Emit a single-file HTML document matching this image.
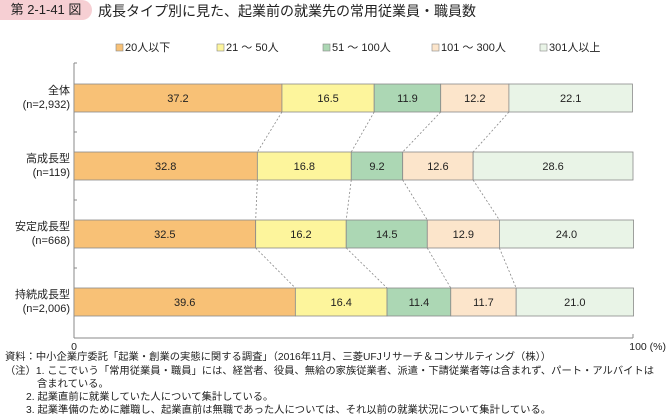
<!DOCTYPE html>
<html><head><meta charset="utf-8"><style>
body{margin:0;background:#fff;font-family:"Liberation Sans","Noto Sans CJK JP",sans-serif;}
#wrap{position:relative;width:667px;height:418px;overflow:hidden;}
.badge{position:absolute;left:0;top:0;width:92px;height:20px;background:#f6cfd3;border-radius:0 10px 10px 0;font-size:13px;line-height:20px;text-align:center;color:#222;}
.title{position:absolute;left:98px;top:1px;font-size:14px;color:#222;}
.note{position:absolute;left:5px;font-size:10.3px;line-height:12px;color:#222;white-space:nowrap;}
</style></head><body><div id="wrap">
<div class="badge">第 2-1-41 図</div>
<div class="title">成長タイプ別に見た、起業前の就業先の常用従業員・職員数</div>
<svg id="chart" width="667" height="356" style="position:absolute;left:0;top:0"></svg>
<div class="note" style="top:352px">資料：中小企業庁委託「起業・創業の実態に関する調査」（2016年11月、三菱UFJリサーチ＆コンサルティング（株））</div>
<div class="note" style="top:366px">（注）1. ここでいう「常用従業員・職員」には、経営者、役員、無給の家族従業者、派遣・下請従業者等は含まれず、パート・アルバイトは</div>
<div class="note" style="top:379px;left:37px">含まれている。</div>
<div class="note" style="top:392px;left:26px">2. 起業直前に就業していた人について集計している。</div>
<div class="note" style="top:405px;left:26px">3. 起業準備のために離職し、起業直前は無職であった人については、それ以前の就業状況について集計している。</div>
</div>
<script>
const categories=["全体","高成長型","安定成長型","持続成長型"];
const sampleSizes=["(n=2,932)","(n=119)","(n=668)","(n=2,006)"];
const seriesNames=["20人以下","21 ～ 50人","51 ～ 100人","101 ～ 300人","301人以上"];
const s20=[37.2,32.8,32.5,39.6];
const s50=[16.5,16.8,16.2,16.4];
const s100=[11.9,9.2,14.5,11.4];
const s300=[12.2,12.6,12.9,11.7];
const s301=[22.1,28.6,24.0,21.0];
const series=[s20,s50,s100,s300,s301];
const colors=["#f8c176","#fdf59c","#acd7b4","#fce5cb","#e9f4e7"];
const svg=document.getElementById('chart');const NS="http://www.w3.org/2000/svg";
const x0=74,x1=633,yTop=84,step=68,bh=28;
const xs=v=>x0+v/100*(x1-x0);
const ys=i=>yTop+i*step;
function mk(t,a){const e=document.createElementNS(NS,t);for(const k in a)e.setAttribute(k,a[k]);svg.appendChild(e);return e;}
const lx=[116,217,323,432,540];
seriesNames.forEach((n,i)=>{
 const r=mk('rect',{x:lx[i],y:44,width:7,height:7,fill:colors[i],stroke:'#888','stroke-width':0.6});
 
 
 const t=mk('text',{x:lx[i]+9,y:51,'font-size':11,fill:'#222'});t.textContent=n;
 
 
});
const ax=mk('line',{x1:x0,y1:63,x2:x0,y2:338,stroke:'#888','stroke-width':1});

const bx=mk('line',{x1:x0,y1:338,x2:x1,y2:338,stroke:'#888','stroke-width':1});

[63,132,200,268,338].forEach(y=>mk('line',{x1:x0,y1:y,x2:x0+3,y2:y,stroke:'#888'}));
mk('line',{x1:x1,y1:334,x2:x1,y2:338,stroke:'#888'});
let t0=mk('text',{x:x0,y:350,'font-size':10.5,'text-anchor':'middle',fill:'#222'});t0.textContent='0';

let t1=mk('text',{x:666,y:350,'font-size':10.5,'text-anchor':'end',fill:'#222'});t1.textContent='100 (%)';

categories.forEach((c,i)=>{
 if(i===0)return;let ca=0,cb=0;
 for(let k=0;k<4;k++){ca+=series[k][i-1];cb+=series[k][i];
  const l=mk('line',{x1:xs(ca),y1:ys(i-1)+bh,x2:xs(cb),y2:ys(i),stroke:'#888','stroke-width':0.8,'stroke-dasharray':'2,2'});
  }
});
categories.forEach((c,i)=>{
 const y=ys(i);let cum=0;
 series.forEach((s,k)=>{
  const r=mk('rect',{x:xs(cum),y:y,width:xs(cum+s[i])-xs(cum),height:bh,fill:colors[k],stroke:'#8a8a8a','stroke-width':0.8});
  
  const t=mk('text',{x:(xs(cum)+xs(cum+s[i]))/2,y:y+bh/2+4,'font-size':11,'text-anchor':'middle',fill:'#222'});
  t.textContent=s[i].toFixed(1);
  
  cum+=s[i];
 });
 const a=mk('text',{x:70,y:y+10,'font-size':11,'text-anchor':'end',fill:'#222'});a.textContent=c;
 
 const b=mk('text',{x:70,y:y+24,'font-size':11,'text-anchor':'end',fill:'#222'});b.textContent=sampleSizes[i];
 
});
</script></body></html>
